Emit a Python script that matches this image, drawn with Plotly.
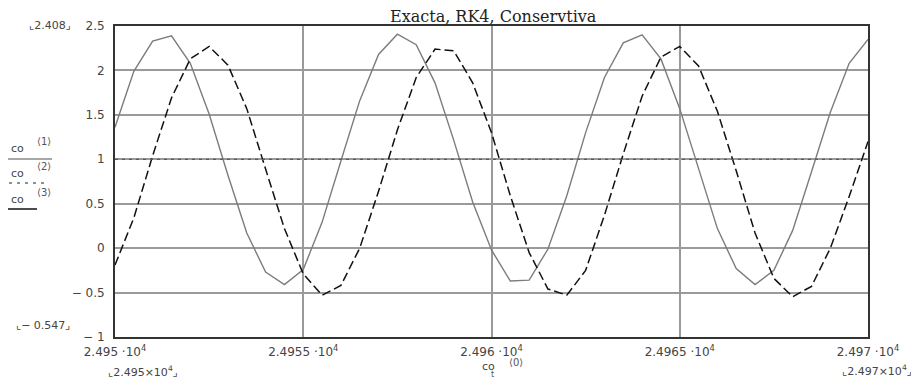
import plotly.graph_objects as go

t_vals = [24950.0, 24950.5, 24951.0, 24951.5, 24952.0, 24952.5, 24953.0, 24953.5, 24954.0, 24954.5,
          24955.0, 24955.5, 24956.0, 24956.5, 24957.0, 24957.5, 24958.0, 24958.5, 24959.0, 24959.5,
          24960.0, 24960.5, 24961.0, 24961.5, 24962.0, 24962.5, 24963.0, 24963.5, 24964.0, 24964.5,
          24965.0, 24965.5, 24966.0, 24966.5, 24967.0, 24967.5, 24968.0, 24968.5, 24969.0, 24969.5,
          24970.0]

exacta = [1.36, 1.99, 2.33, 2.39, 2.08, 1.51, 0.82, 0.17, -0.27, -0.41,
          -0.24, 0.29, 0.98, 1.66, 2.18, 2.408, 2.29, 1.86, 1.21, 0.52,
          -0.02, -0.37, -0.36, -0.01, 0.59, 1.30, 1.92, 2.31, 2.40, 2.13,
          1.57, 0.89, 0.22, -0.23, -0.41, -0.25, 0.20, 0.86, 1.53, 2.08,
          2.35]

rk4 = [-0.19, 0.34, 1.04, 1.69, 2.13, 2.27, 2.06, 1.57, 0.89, 0.22,
       -0.29, -0.53, -0.42, 0.00, 0.64, 1.33, 1.92, 2.24, 2.22, 1.86,
       1.30, 0.59, -0.05, -0.46, -0.53, -0.25, 0.37, 1.06, 1.71, 2.15,
       2.27, 2.05, 1.54, 0.87, 0.17, -0.34, -0.547, -0.43, 0.00, 0.58,
       1.20]

conservativa = [1.0, 1.0, 1.0, 1.0, 1.0, 1.0, 1.0, 1.0, 1.0, 1.0,
                1.0, 1.0, 1.0, 1.0, 1.0, 1.0, 1.0, 1.0, 1.0, 1.0,
                1.0, 1.0, 1.0, 1.0, 1.0, 1.0, 1.0, 1.0, 1.0, 1.0,
                1.0, 1.0, 1.0, 1.0, 1.0, 1.0, 1.0, 1.0, 1.0, 1.0,
                1.0]

x_tickvals = [24950, 24955, 24960, 24965, 24970]
x_ticktext = ["2.495 ·10<sup>4</sup>", "2.4955 ·10<sup>4</sup>", "2.496 ·10<sup>4</sup>",
              "2.4965 ·10<sup>4</sup>", "2.497 ·10<sup>4</sup>"]
y_tickvals = [-1, -0.5, 0, 0.5, 1, 1.5, 2, 2.5]
y_ticktext = ["− 1", "− 0.5", "0", "0.5", "1", "1.5", "2", "2.5"]

title_text = "Exacta, RK4, Conservtiva"

# page has an 8px body margin; figure is drawn offset by it
OFF = 8
PAGE_W, PAGE_H = 919, 379
W, H = PAGE_W - OFF, PAGE_H - OFF
# plot area in page pixels
L, R, T, B = 115, 868, 26, 337
PW, PH = R - L, B - T


def px(x):
    return (x - L) / PW


def py(y):
    return (B - y) / PH


fig = go.Figure()
fig.add_trace(go.Scatter(x=t_vals, y=exacta, mode="lines",
                         line=dict(color="#7c7c7c", width=1.4)))
fig.add_trace(go.Scatter(x=t_vals, y=rk4, mode="lines",
                         line=dict(color="#111111", width=1.5, dash="9px,4px")))
fig.add_trace(go.Scatter(x=t_vals, y=conservativa, mode="lines",
                         line=dict(color="#5a5a5a", width=1.3, dash="3px,4px")))

tick_font = dict(family="DejaVu Sans", size=12, color="#444444")

fig.update_layout(
    width=W, height=H,
    margin=dict(l=L - OFF, r=PAGE_W - R, t=T - OFF, b=PAGE_H - B),
    paper_bgcolor="white", plot_bgcolor="white",
    showlegend=False,
    xaxis=dict(range=[24950, 24970], tickvals=x_tickvals, ticktext=x_ticktext,
               showgrid=True, gridcolor="#9a9a9a", gridwidth=1.5,
               zeroline=False, showline=True, linecolor="#333333", linewidth=2,
               mirror=True, ticks="", tickfont=tick_font, ticklabelstandoff=3),
    yaxis=dict(range=[-1, 2.5], tickvals=y_tickvals, ticktext=y_ticktext,
               showgrid=True, gridcolor="#9a9a9a", gridwidth=1.5,
               zeroline=False, showline=True, linecolor="#333333", linewidth=2,
               mirror=True, ticks="", tickfont=tick_font, ticklabelstandoff=6),
)

ann = []


def add_text(text, x, y, font):
    ann.append(dict(text=text, x=px(x), y=py(y), xref="paper", yref="paper",
                    xanchor="center", yanchor="middle", showarrow=False, font=font))


small = dict(family="DejaVu Sans", size=11, color="#444444")
sup = dict(family="DejaVu Sans", size=10, color="#555555")
tiny = dict(family="DejaVu Sans", size=8, color="#555555")

add_text(title_text, 493, 16, dict(family="DejaVu Serif", size=16, color="#222222"))
add_text("⌞2.408⌟", 50, 25, small)
add_text("⌞− 0.547⌟", 43, 325, small)
add_text("⌞2.495×10<sup>4</sup>⌟", 143, 371, small)
add_text("⌞2.497×10<sup>4</sup>⌟", 877, 370, small)

# x axis label
add_text("co", 488, 366, small)
add_text("⟨0⟩", 516, 362, sup)
add_text("t", 492, 374.5, tiny)

# y axis legend labels
for k, (yc, ys) in enumerate([(148, 141), (173, 166), (199, 192)]):
    add_text("co", 17, yc, small)
    add_text("⟨%d⟩" % (k + 1), 44, ys, sup)

fig.update_layout(annotations=ann)

shapes = [
    dict(type="line", xref="paper", yref="paper", x0=px(8), x1=px(52), y0=py(159), y1=py(159),
         line=dict(color="#8a8a8a", width=1.5)),
    dict(type="line", xref="paper", yref="paper", x0=px(9), x1=px(44), y0=py(183), y1=py(183),
         line=dict(color="#222222", width=1.2, dash="3px,5px")),
    dict(type="line", xref="paper", yref="paper", x0=px(8), x1=px(37), y0=py(209), y1=py(209),
         line=dict(color="#111111", width=1.5)),
]
fig.update_layout(shapes=shapes)

fig.write_html("out.html")
